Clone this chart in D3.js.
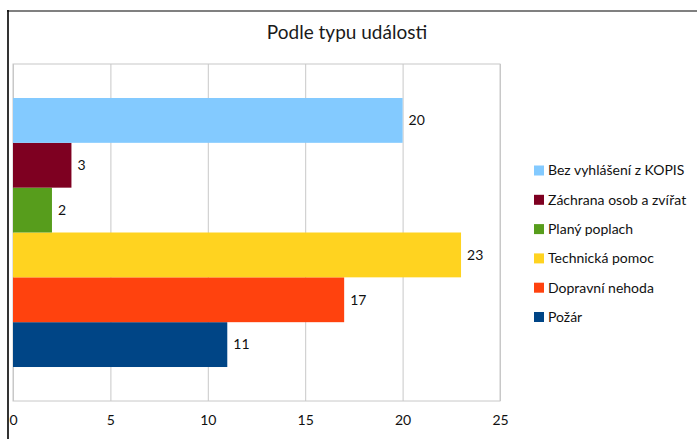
<!DOCTYPE html>
<html>
<head>
<meta charset="utf-8">
<script src="https://cdn.jsdelivr.net/npm/d3@7"></script>
<style>
  body { margin: 0; background: #fff; }
  text { font-family: Lato, "Open Sans", sans-serif; }
</style>
</head>
<body>
<div id="chart"></div>
<script>
// series in chart order (bottom bar first)
var categories = ["Požár", "Dopravní nehoda", "Technická pomoc", "Planý poplach", "Záchrana osob a zvířat", "Bez vyhlášení z KOPIS"];
var values = [11, 17, 23, 2, 3, 20];
var colors = ["#004586", "#ff420e", "#ffd320", "#579d1c", "#7e0021", "#83caff"];
var xTicks = [0, 5, 10, 15, 20, 25];
var title = "Podle typu události";

var svgWidth = 697;
var svgHeight = 439;

// plot area
var plot = { left: 13, right: 500, top: 64, bottom: 401 };
var plotHeight = plot.bottom - plot.top;

var svg = d3.select("#chart")
  .append("svg")
  .attr("width", svgWidth)
  .attr("height", svgHeight);

svg.append("rect")
  .attr("width", svgWidth)
  .attr("height", svgHeight)
  .attr("fill", "#fff");

// page frame lines
svg.append("line")
  .attr("x1", 7).attr("x2", svgWidth)
  .attr("y1", 11).attr("y2", 11)
  .attr("stroke", "#808080")
  .attr("stroke-width", 2.2);

svg.append("line")
  .attr("x1", 8).attr("x2", 8)
  .attr("y1", 10).attr("y2", svgHeight)
  .attr("stroke", "#000")
  .attr("stroke-width", 1.6);

// title
svg.append("text")
  .attr("x", 347)
  .attr("y", 39)
  .attr("text-anchor", "middle")
  .attr("font-size", "19px")
  .attr("fill", "#1a1a1a")
  .text(title);

// scales
var xScale = d3.scaleLinear()
  .domain([0, 25])
  .range([plot.left, plot.right]);

// top bar is the last series
var yScale = d3.scaleBand()
  .domain(categories.slice().reverse())
  .range([plot.top, plot.bottom])
  .paddingInner(0)
  .paddingOuter(0.758);

// gridlines
svg.append("g")
  .attr("transform", `translate(0, ${plot.bottom})`)
  .call(d3.axisBottom(xScale).tickValues(xTicks).tickSize(-plotHeight).tickFormat(""))
  .call(g => g.select(".domain").remove())
  .call(g => g.selectAll("line").attr("stroke", "#c8c8c8"));

// plot border
svg.append("rect")
  .attr("x", plot.left)
  .attr("y", plot.top)
  .attr("width", plot.right - plot.left)
  .attr("height", plotHeight)
  .attr("fill", "none")
  .attr("stroke", "#c8c8c8");

// bars
svg.selectAll(".bar")
  .data(categories)
  .enter()
  .append("rect")
  .attr("class", "bar")
  .attr("x", xScale(0))
  .attr("y", d => yScale(d))
  .attr("width", (d, i) => xScale(values[i]) - xScale(0))
  .attr("height", yScale.bandwidth())
  .attr("fill", (d, i) => colors[i]);

// value labels
svg.selectAll(".val")
  .data(categories)
  .enter()
  .append("text")
  .attr("class", "val")
  .attr("x", (d, i) => xScale(values[i]) + 6)
  .attr("y", d => yScale(d) + yScale.bandwidth() / 2)
  .attr("dy", "0.35em")
  .attr("font-size", "14px")
  .attr("fill", "#111")
  .text((d, i) => values[i]);

// x axis labels
svg.append("g")
  .attr("transform", `translate(0, ${plot.bottom})`)
  .call(d3.axisBottom(xScale).tickValues(xTicks).tickSize(0).tickPadding(14))
  .call(g => g.select(".domain").remove())
  .call(g => g.selectAll("text")
    .attr("font-family", "Lato, 'Open Sans', sans-serif")
    .attr("font-size", "14px")
    .attr("fill", "#111"));

// legend (top to bottom = last series first)
var legendItems = categories.map((c, i) => ({ name: c, color: colors[i] })).reverse();

var legend = svg.append("g")
  .attr("transform", "translate(534, 170.5)");

var row = legend.selectAll(".item")
  .data(legendItems)
  .enter()
  .append("g")
  .attr("class", "item")
  .attr("transform", (d, i) => `translate(0, ${i * 29.3})`);

row.append("rect")
  .attr("x", 0)
  .attr("y", -5)
  .attr("width", 10)
  .attr("height", 10)
  .attr("fill", d => d.color);

row.append("text")
  .attr("x", 14)
  .attr("y", 0)
  .attr("dy", "0.35em")
  .attr("font-size", "14px")
  .attr("fill", "#111")
  .text(d => d.name);
</script>
</body>
</html>
